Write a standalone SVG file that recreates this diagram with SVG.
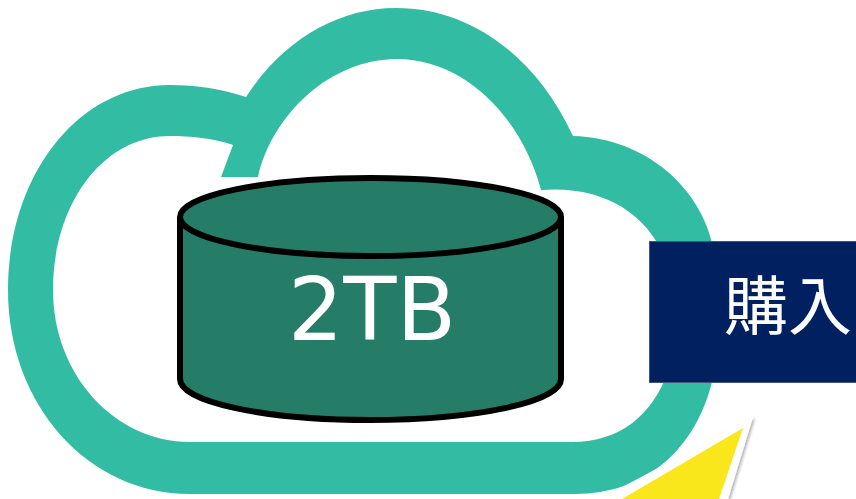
<svg xmlns="http://www.w3.org/2000/svg" width="856" height="499" viewBox="0 0 856 499">
<defs>
<style>
.label{fill:#fff;font-family:"DejaVu Sans","Noto Sans CJK JP",sans-serif}
</style>
<filter id="sh" x="-20%" y="-20%" width="140%" height="140%"><feDropShadow dx="2" dy="1" stdDeviation="1.500" flood-color="#000" flood-opacity=".3"/></filter>
</defs>
<rect width="856" height="499" fill="#fff"/>
<g id="cloud">
<path fill="#33bca4" fill-rule="evenodd" d="M246 97C283 40 338 8 396 8C470 8 535 55 573 136C650 138 712 195 716 268C722 300 722 345 712 382C695 450 645 494 575 494L190 494C88 494 8 405 8 290C8 175 78 85 170 85C197 85 222 89 246 97Z
M233 145C213 138 190 136 170 136C102 136 53 205 53 290C53 375 115 442 190 442L572 442C620 442 652 415 668 372C680 330 682 290 668 265C650 215 605 185 541 190C522 118 465 59 397 59C330 59 272 115 258 177L221 177Z"/>
</g>
<g id="cylinder">
<path fill="#257d68" stroke="#000" stroke-width="6" d="M180 217L180 379C180 402 265 420 370 420C475 420 561 402 561 379L561 217"/>
<ellipse cx="370.500" cy="217" rx="190.500" ry="39" fill="#257d68" stroke="#000" stroke-width="6"/>
<text class="label" x="372" y="340" font-size="87" text-anchor="middle">2TB</text>
</g>
<g id="button">
<rect x="649.500" y="241.500" width="207" height="141" fill="#00205f" stroke="#44557f" stroke-width="1"/>
<text class="label" x="724" y="329" font-size="64">購入</text>
</g>
<g id="pointer">
<path d="M753 417L728 499L600 499Z" fill="#fff" filter="url(#sh)"/>
<path d="M743 428L719 499L622 499Z" fill="#f9e71c"/>
</g>
</svg>
